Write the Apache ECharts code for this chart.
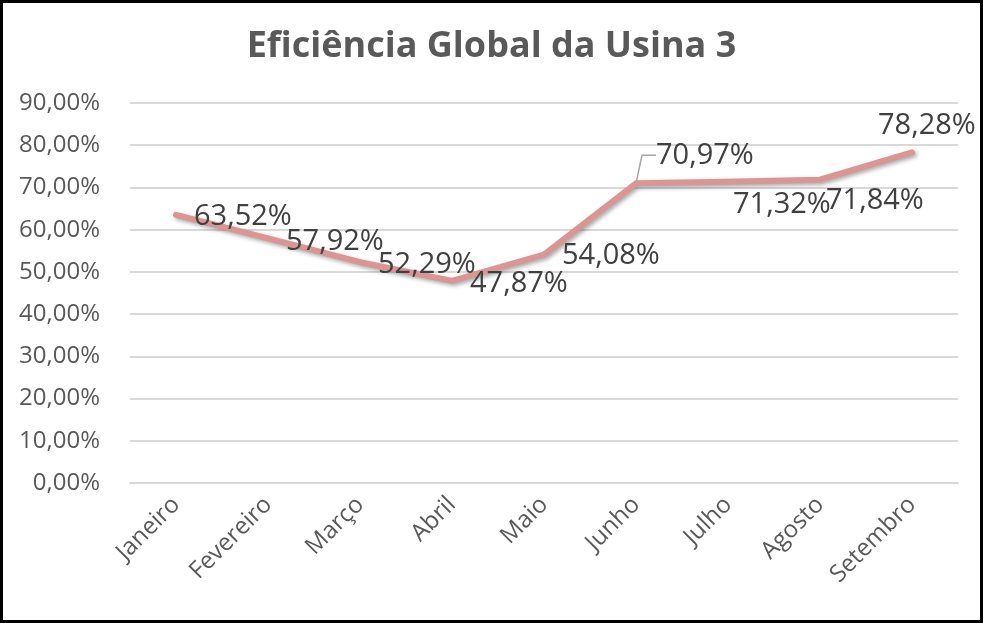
<!DOCTYPE html>
<html>
<head>
<meta charset="utf-8">
<script src="https://cdn.jsdelivr.net/npm/echarts@6/dist/echarts.min.js"></script>
<style>
  html, body { margin: 0; padding: 0; background: #fff; }
  #chart { width: 983px; height: 623px; }
</style>
</head>
<body>
<div id="chart"></div>
<script>
// 数据
var meses = ["Janeiro", "Fevereiro", "Março", "Abril", "Maio", "Junho", "Julho", "Agosto", "Setembro"];
var eficiencia = [63.52, 57.92, 52.29, 47.87, 54.08, 70.97, 71.32, 71.84, 78.28];
var yTicks = [0, 10, 20, 30, 40, 50, 60, 70, 80, 90];

// deslocamento dos rótulos (como foram arrastados no Excel)
var labelShift = [[0, 2], [0, 3], [0, 3], [0, 3], [0, 1], [2, -28], [-13, 23], [-12, 21], [-52, -27]];
// rótulo com linha de chamada
var comLinha = 5;

function pct(v) {
  return v.toFixed(2).replace(".", ",") + "%";
}

(function () {
  var myChart = echarts.init(document.getElementById("chart"));

  var option = {
    backgroundColor: "#fff",
    animation: false,
    title: {
      text: "Eficiência Global da Usina 3",
      left: "center",
      top: 24,
      textStyle: {
        fontFamily: "Open Sans",
        fontWeight: "bold",
        fontSize: 36,
        color: "#595959"
      }
    },
    graphic: [{
      type: "rect",
      shape: { x: 1.5, y: 1.5, width: 980, height: 620 },
      style: { fill: "none", stroke: "#000", lineWidth: 3 },
      silent: true
    }],
    grid: {
      left: 130,
      right: 25,
      top: 103,
      bottom: 140,
      containLabel: false
    },
    xAxis: {
      type: "category",
      data: meses,
      boundaryGap: true,
      axisLine: { show: true, lineStyle: { color: "#d9d9d9", width: 2 } },
      axisTick: { show: false },
      axisLabel: {
        rotate: 45,
        margin: 18,
        fontFamily: "Open Sans",
        fontSize: 24,
        color: "#595959"
      }
    },
    yAxis: {
      type: "value",
      min: yTicks[0],
      max: yTicks[yTicks.length - 1],
      interval: 10,
      axisLine: { show: false },
      axisTick: { show: false },
      axisLabel: {
        margin: 30,
        fontFamily: "Open Sans",
        fontSize: 24,
        color: "#595959",
        formatter: function (v) { return pct(v); }
      },
      splitLine: { lineStyle: { color: "#d9d9d9", width: 2 } }
    },
    series: [{
      type: "line",
      data: eficiencia.map(function (v, i) {
        return { value: v, labelLine: { show: i === comLinha } };
      }),
      symbol: "circle",
      symbolSize: 2,
      showSymbol: true,
      itemStyle: { color: "#d99694" },
      lineStyle: {
        color: "#d99694",
        width: 6,
        cap: "round",
        join: "round",
        shadowColor: "rgba(0,0,0,0.35)",
        shadowBlur: 4,
        shadowOffsetX: 2,
        shadowOffsetY: 2
      },
      label: {
        show: true,
        position: "right",
        distance: 17,
        fontFamily: "Open Sans",
        fontSize: 29,
        color: "#404040",
        formatter: function (p) { return pct(p.value); }
      },
      labelLine: {
        show: false,
        length2: 14,
        minTurnAngle: 0,
        lineStyle: { color: "#a6a6a6", width: 1.5 }
      },
      labelLayout: function (params) {
        var s = labelShift[params.dataIndex];
        return { dx: s[0], dy: s[1] };
      }
    }]
  };

  myChart.setOption(option);
  window.addEventListener("resize", function () {
    myChart.resize();
  });
})();
</script>
</body>
</html>
